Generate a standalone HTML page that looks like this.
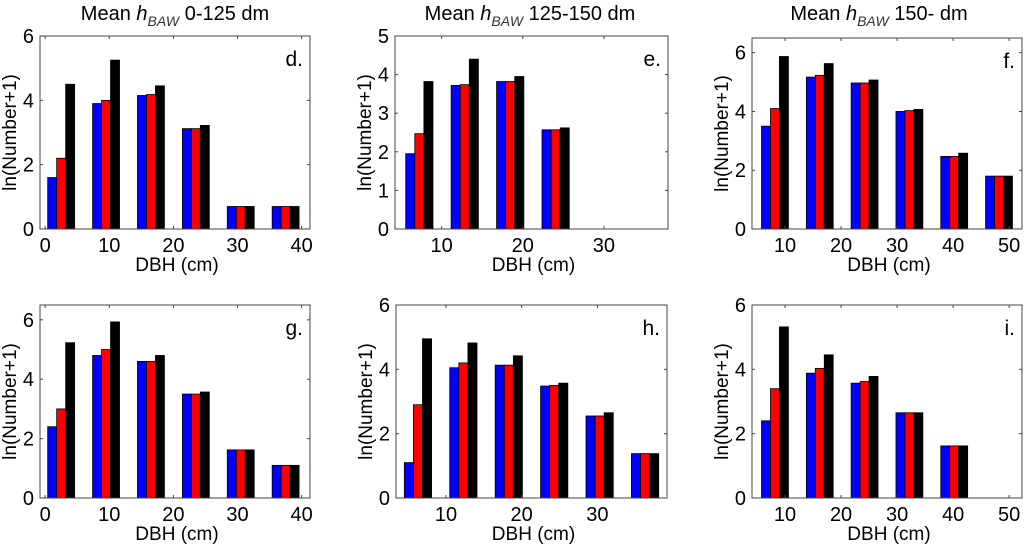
<!DOCTYPE html>
<html><head><meta charset="utf-8">
<style>
html,body{margin:0;padding:0;background:#fff;}
svg{display:block;font-family:"Liberation Sans",Arial,sans-serif;}
</style></head>
<body>
<svg id="fig" width="1024" height="544" viewBox="0 0 1024 544" xmlns="http://www.w3.org/2000/svg"></svg>
<script>
// ---- data ----
const seriesColors = ["#0000ff", "#ff0000", "#000000"];
const dValues = [[1.6,2.2,4.5],[3.9,4.0,5.25],[4.15,4.18,4.45],[3.12,3.12,3.22],[0.7,0.7,0.7],[0.7,0.7,0.7]];
const eValues = [[1.95,2.47,3.82],[3.72,3.74,4.4],[3.82,3.82,3.95],[2.57,2.57,2.62]];
const fValues = [[3.5,4.1,5.87],[5.17,5.23,5.63],[4.97,4.97,5.07],[4.0,4.03,4.07],[2.47,2.47,2.58],[1.8,1.8,1.8]];
const gValues = [[2.4,3.0,5.23],[4.8,5.0,5.93],[4.6,4.6,4.8],[3.5,3.5,3.57],[1.62,1.62,1.62],[1.1,1.1,1.1]];
const hValues = [[1.1,2.9,4.95],[4.05,4.2,4.82],[4.13,4.13,4.42],[3.48,3.5,3.57],[2.55,2.55,2.65],[1.38,1.38,1.38]];
const iValues = [[2.4,3.4,5.32],[3.88,4.03,4.45],[3.57,3.62,3.78],[2.65,2.65,2.65],[1.62,1.62,1.62]];
const dCenters = [2.5,9.5,16.5,23.5,30.5,37.5];
const eCenters = [7.25,12.85,18.45,24.05];
const fCenters = [8.2,16.2,24.2,32.2,40.2,48.2];
const hCenters = [6.3,12.3,18.3,24.3,30.3,36.3];
const iCenters = [8.2,16.2,24.2,32.2,40.2];
const xTicksA = [0,10,20,30,40];
const xTicksB = [10,20,30];
const xTicksC = [10,20,30,40,50];
const yTicks6 = [0,2,4,6];
const yTicks5 = [0,1,2,3,4,5];
const titles = ["0-125 dm","125-150 dm","150- dm"];

const panels = [
 {id:"d",vals:dValues,cen:dCenters,bw:1.4,xlim:[-0.8,41.3],ylim:[0,6],xt:xTicksA,yt:yTicks6,box:[40,36,310,229],title:titles[0],tx:175},
 {id:"e",vals:eValues,cen:eCenters,bw:1.12,xlim:[4.25,37.9],ylim:[0,5],xt:xTicksB,yt:yTicks5,box:[395,36,668,229],title:titles[1],tx:530},
 {id:"f",vals:fValues,cen:fCenters,bw:1.6,xlim:[4.1,52.3],ylim:[0,6.5],xt:xTicksC,yt:yTicks6,box:[752,38,1022,229],title:titles[2],tx:879},
 {id:"g",vals:gValues,cen:dCenters,bw:1.4,xlim:[-0.8,41.3],ylim:[0,6.5],xt:xTicksA,yt:yTicks6,box:[40,305,310,498]},
 {id:"h",vals:hValues,cen:hCenters,bw:1.2,xlim:[3.4,39.2],ylim:[0,6],xt:xTicksB,yt:yTicks6,box:[396,305,667,498]},
 {id:"i",vals:iValues,cen:iCenters,bw:1.6,xlim:[4.1,52.3],ylim:[0,6],xt:xTicksC,yt:yTicks6,box:[752,305,1022,498]}
];
const NS="http://www.w3.org/2000/svg";
const svg=document.getElementById("fig");
function mk(tag,attrs,parent){const e=document.createElementNS(NS,tag);for(const k in attrs)e.setAttribute(k,attrs[k]);(parent||svg).appendChild(e);return e;}

panels.forEach(p=>{
  const [L,T,R,B]=p.box;
  const g=mk("g",{});
  
  
  const sx=v=>L+(v-p.xlim[0])/(p.xlim[1]-p.xlim[0])*(R-L);
  const sy=v=>B-(v-p.ylim[0])/(p.ylim[1]-p.ylim[0])*(B-T);
  p.vals.forEach((grp,gi)=>{
    grp.forEach((v,si)=>{
      const c=p.cen[gi]+(si-1)*p.bw;
      const x0=sx(c-p.bw/2),x1=sx(c+p.bw/2);
      const r=mk("rect",{x:x0,y:sy(v),width:x1-x0,height:sy(0)-sy(v),fill:seriesColors[si],stroke:"#000","stroke-width":0.8},g);
      
      
    });
  });
  const bx=mk("rect",{x:L,y:T,width:R-L,height:B-T,fill:"none",stroke:"#444","stroke-width":1},g);
  
  
  p.xt.forEach(t=>{
    const x=sx(t);
    mk("line",{x1:x,y1:B,x2:x,y2:B-3,stroke:"#444"},g);
    mk("line",{x1:x,y1:T,x2:x,y2:T+3,stroke:"#444"},g);
    const tx=mk("text",{x:x,y:B+23,"font-size":20,"text-anchor":"middle",fill:"#000"},g);
    tx.textContent=t;
    
    
  });
  p.yt.forEach(t=>{
    const y=sy(t);
    mk("line",{x1:L,y1:y,x2:L+3,y2:y,stroke:"#444"},g);
    mk("line",{x1:R,y1:y,x2:R-3,y2:y,stroke:"#444"},g);
    const ty=mk("text",{x:L-6,y:y+7,"font-size":20,"text-anchor":"end",fill:"#000"},g);
    ty.textContent=t;
    
    
  });
  const xl=mk("text",{x:(L+R)/2+2,y:B+42,"font-size":19,"text-anchor":"middle"},g);
  xl.textContent="DBH (cm)";
  
  
  const yx=L-24, yc=(T+B)/2;
  const yl=mk("text",{x:yx,y:yc,"font-size":19,"text-anchor":"middle",transform:`rotate(-90 ${yx} ${yc})`},g);
  yl.textContent="ln(Number+1)";
  
  
  const pl=mk("text",{x:R-7,y:T+30,"font-size":21,"text-anchor":"end"},g);
  pl.textContent=p.id+".";
  
  
  if(p.title){
    const tt=mk("text",{x:p.tx,y:20,"font-size":20,"text-anchor":"middle"},g);
    
    
    const a=mk("tspan",{},tt);a.textContent="Mean ";
    const b=mk("tspan",{"font-style":"italic"},tt);b.textContent="h";
    const c=mk("tspan",{"font-style":"italic","font-size":14,dy:6,fill:"#333"},tt);c.textContent="BAW";
    const d=mk("tspan",{dy:-6},tt);d.textContent=" "+p.title;
  }
});
</script>
</body></html>
